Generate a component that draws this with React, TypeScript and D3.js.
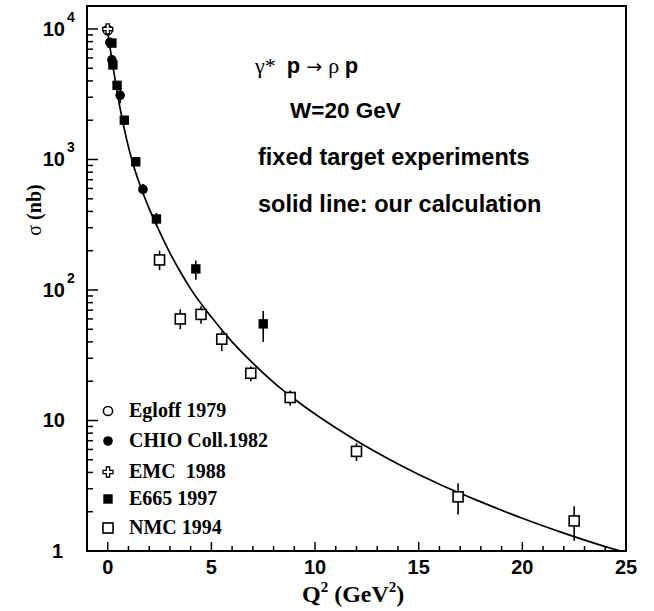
import React from 'react';
import * as d3 from 'd3';

const W = 654;
const H = 611;

// Egloff 1979 (open circle)
const egloffQ2 = [0.0];
const egloffSigma = [9800];
const egloffLo = [8900];
const egloffHi = [10800];

// CHIO Coll. 1982 (filled circle)
const chioQ2 = [0.1, 0.2, 0.6, 1.7];
const chioSigma = [7900, 5800, 3100, 590];
const chioLo = [7400, 5400, 2700, 540];
const chioHi = [8400, 6200, 3550, 650];

// EMC 1988 (open cross)
const emcQ2 = [0.0];
const emcSigma = [10000];
const emcLo = [9300];
const emcHi = [10800];

// E665 1997 (filled square)
const e665Q2 = [0.2, 0.25, 0.45, 0.8, 1.35, 2.35, 4.25, 7.5];
const e665Sigma = [7800, 5300, 3700, 2000, 960, 350, 145, 55];
const e665Lo = [7400, 5000, 3500, 1900, 910, 315, 120, 40];
const e665Hi = [8200, 5600, 3900, 2100, 1010, 390, 168, 69];

// NMC 1994 (open square)
const nmcQ2 = [2.5, 3.5, 4.5, 5.5, 6.9, 8.8, 12.0, 16.9, 22.5];
const nmcSigma = [170, 60, 65, 42, 23, 15, 5.8, 2.6, 1.7];
const nmcLo = [142, 50, 55, 34, 20, 13, 4.9, 1.9, 1.2];
const nmcHi = [200, 71, 75, 48, 26, 17, 6.7, 3.3, 2.2];

// Calculated cross section (solid line)
const calcQ2 = [0, 0.2, 0.4, 0.6, 0.9, 1.2, 1.6, 2.0, 2.5, 3.0, 3.5, 4.0, 5.0, 6.0, 7.0, 8.0, 9.0, 10, 12, 14, 16, 18, 20, 22, 24, 25];
const calcSigma = [9500, 5800, 3700, 2450, 1450, 950, 610, 420, 280, 192, 138, 102, 62, 40, 27.5, 19.6, 14.6, 11.2, 7.0, 4.65, 3.25, 2.38, 1.78, 1.37, 1.08, 0.97];

// Axis ticks
const xMajorTicks = [0, 5, 10, 15, 20, 25];
const yDecades = [1, 10, 100, 1000, 10000];
const yDecadeLabels = ['1', '10', '10', '10', '10'];
const yDecadeExponents = ['', '', '2', '3', '4'];

const legendNames = ['Egloff 1979', 'CHIO Coll.1982', 'EMC  1988', 'E665 1997', 'NMC 1994'];
const legendKinds = ['openCircle', 'filledCircle', 'cross', 'filledSquare', 'openSquare'];

const serif = '"Liberation Serif", "Times New Roman", serif';
const sans = '"Liberation Sans", Arial, Helvetica, sans-serif';
const symbolFont = '"DejaVu Sans", sans-serif';

const x = d3.scaleLinear().domain([-1, 25]).range([87, 626]);
const y = d3.scaleLog().domain([1, 15000]).range([551, 6]);

const crossPath = d3.symbol().type(d3.symbolCross).size(56)() as string;

function Marker({ kind, cx, cy }: { kind: string; cx: number; cy: number }) {
  switch (kind) {
    case 'openCircle':
      return <circle cx={cx} cy={cy} r={4.6} fill="#fff" stroke="#000" strokeWidth={1.5} />;
    case 'filledCircle':
      return <circle cx={cx} cy={cy} r={4.8} fill="#000" />;
    case 'cross':
      return <path d={crossPath} transform={`translate(${cx},${cy})`} fill="#fff" stroke="#000" strokeWidth={1.3} />;
    case 'filledSquare':
      return <rect x={cx - 4.7} y={cy - 4.7} width={9.4} height={9.4} fill="#000" />;
    default:
      return <rect x={cx - 5} y={cy - 5} width={10} height={10} fill="#fff" stroke="#000" strokeWidth={1.6} />;
  }
}

function Series({ kind, q2, sigma, lo, hi }: { kind: string; q2: number[]; sigma: number[]; lo: number[]; hi: number[] }) {
  return (
    <g>
      {q2.map((q, i) => (
        <line key={`e${i}`} x1={x(q)} x2={x(q)} y1={y(lo[i])} y2={y(hi[i])} stroke="#000" strokeWidth={1.6} />
      ))}
      {q2.map((q, i) => (
        <Marker key={`m${i}`} kind={kind} cx={x(q)} cy={y(sigma[i])} />
      ))}
    </g>
  );
}

export default function App() {
  const [x0, x1] = x.range();
  const [yb, yt] = y.range();

  const line = d3
    .line<number>()
    .x((_, i) => x(calcQ2[i]))
    .y((s) => y(s))
    .curve(d3.curveMonotoneX);

  const xMinor = d3.range(-1, 26, 1).filter((v) => !xMajorTicks.includes(v) && v >= -1 && v <= 25);
  const yMinor = y
    .ticks()
    .filter((v) => v >= 1 && v <= 15000 && !yDecades.includes(v));

  return (
    <svg width={W} height={H} style={{ position: 'absolute', left: 0, top: 0, background: '#fff' }}>
      <defs>
        <clipPath id="plot-area">
          <rect x={x0} y={yt} width={x1 - x0} height={yb - yt} />
        </clipPath>
      </defs>

      {/* ticks on x axis */}
      {xMajorTicks.map((v) => (
        <line key={`xM${v}`} x1={x(v)} x2={x(v)} y1={yb} y2={yb - 9} stroke="#000" strokeWidth={1.5} />
      ))}
      {xMinor.map((v) => (
        <line key={`xm${v}`} x1={x(v)} x2={x(v)} y1={yb} y2={yb - 5} stroke="#000" strokeWidth={1.5} />
      ))}
      {xMajorTicks.map((v) => (
        <text key={`xl${v}`} x={x(v)} y={574} textAnchor="middle" fontFamily={sans} fontWeight="bold" fontSize={20}>
          {v}
        </text>
      ))}

      {/* ticks on y axis */}
      {yDecades.map((v) => (
        <line key={`yM${v}`} x1={x0} x2={x0 + 11} y1={y(v)} y2={y(v)} stroke="#000" strokeWidth={1.5} />
      ))}
      {yMinor.map((v) => (
        <line key={`ym${v}`} x1={x0} x2={x0 + 6} y1={y(v)} y2={y(v)} stroke="#000" strokeWidth={1.5} />
      ))}
      {yDecades.map((v, i) => (
        <text key={`yl${v}`} x={i === 0 ? 63 : 65} y={y(v) + 7} textAnchor="end" fontFamily={sans} fontWeight="bold" fontSize={20}>
          {yDecadeLabels[i]}
        </text>
      ))}
      {yDecades.map((v, i) =>
        yDecadeExponents[i] ? (
          <text key={`ye${v}`} x={67} y={y(v) - 7} fontFamily={sans} fontWeight="bold" fontSize={14}>
            {yDecadeExponents[i]}
          </text>
        ) : null
      )}

      {/* frame */}
      <rect x={x0} y={yt} width={x1 - x0} height={yb - yt} fill="none" stroke="#000" strokeWidth={2} />

      {/* calculation */}
      <g clipPath="url(#plot-area)">
        <path d={line(calcSigma) as string} fill="none" stroke="#000" strokeWidth={1.7} />
      </g>

      {/* data */}
      <Series kind="openSquare" q2={nmcQ2} sigma={nmcSigma} lo={nmcLo} hi={nmcHi} />
      <Series kind="filledSquare" q2={e665Q2} sigma={e665Sigma} lo={e665Lo} hi={e665Hi} />
      <Series kind="filledCircle" q2={chioQ2} sigma={chioSigma} lo={chioLo} hi={chioHi} />
      <Series kind="openCircle" q2={egloffQ2} sigma={egloffSigma} lo={egloffLo} hi={egloffHi} />
      <Series kind="cross" q2={emcQ2} sigma={emcSigma} lo={emcLo} hi={emcHi} />

      {/* annotations */}
      <text x={255} y={73} fontSize={22} style={{ whiteSpace: 'pre' }}>
        <tspan fontFamily={serif}>γ*  </tspan>
        <tspan fontFamily={sans} fontWeight="bold">p</tspan>
        <tspan fontFamily={symbolFont} fontSize={19}> → </tspan>
        <tspan fontFamily={serif}>ρ </tspan>
        <tspan fontFamily={sans} fontWeight="bold">p</tspan>
      </text>
      <text x={290} y={118} fontFamily={sans} fontWeight="bold" fontSize={22.5}>W=20 GeV</text>
      <text x={258} y={165} fontFamily={sans} fontWeight="bold" fontSize={23.5}>fixed target experiments</text>
      <text x={258} y={212} fontFamily={sans} fontWeight="bold" fontSize={23.5}>solid line: our calculation</text>

      {/* legend */}
      {legendNames.map((name, i) => {
        const ly = [411, 441, 472, 499, 528][i];
        return (
          <g key={name}>
            <Marker kind={legendKinds[i]} cx={108} cy={ly} />
            <text x={129} y={ly + 6} fontFamily={serif} fontWeight="bold" fontSize={20} style={{ whiteSpace: 'pre' }}>
              {name}
            </text>
          </g>
        );
      })}

      {/* axis titles */}
      <text x={302} y={602} fontFamily={serif} fontWeight="bold" fontSize={24}>
        Q<tspan fontSize={15} dy={-10}>2</tspan>
        <tspan dy={10}> (GeV</tspan>
        <tspan fontSize={15} dy={-10}>2</tspan>
        <tspan dy={10}>)</tspan>
      </text>
      <text transform="translate(41,210) rotate(-90)" textAnchor="middle" fontFamily={serif} fontWeight="bold" fontSize={20}>
        <tspan fontWeight="normal">σ</tspan> (nb)
      </text>
    </svg>
  );
}
